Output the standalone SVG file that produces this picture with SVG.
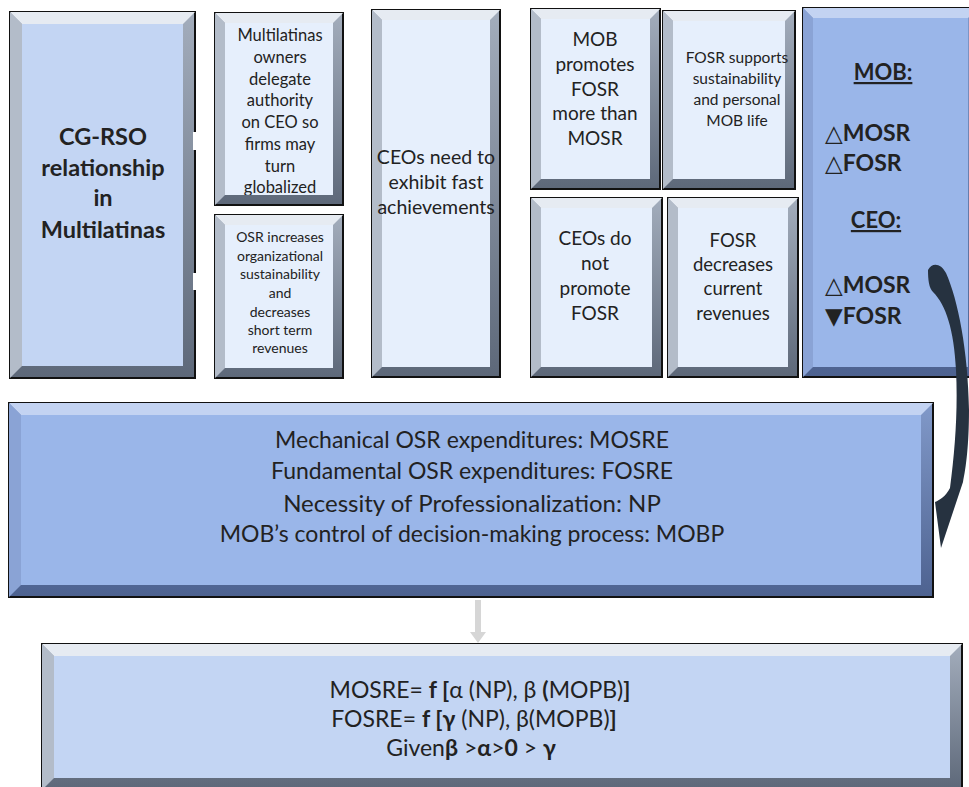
<svg xmlns="http://www.w3.org/2000/svg" width="969" height="787" viewBox="0 0 969 787">
<defs>
<linearGradient id="gFrame" x1="0" y1="0" x2="0" y2="1"><stop offset="0" stop-color="#a3adbc"/><stop offset="1" stop-color="#5d6879"/></linearGradient>
<linearGradient id="bFrame" x1="0" y1="0" x2="0" y2="1"><stop offset="0" stop-color="#8199c9"/><stop offset="1" stop-color="#4d6290"/></linearGradient>
<clipPath id="clip2"><rect x="215" y="13" width="128" height="182"/></clipPath>
</defs>
<style>
.fg{fill:url(#gFrame);stroke:#111;stroke-width:2}
.fb{fill:url(#bFrame);stroke:#111;stroke-width:2}
.tg{fill:#e6ebf2}
.lg{fill:#b3bcc9}
.tb{fill:#c3d3f2}
.lb{fill:#8aa3d5}
.pale{fill:#e6effc}
.mid{fill:#c3d5f3}
.blue{fill:#9ab6e9}
text{font-family:Lato,"Open Sans","DejaVu Sans",sans-serif;fill:#222;text-anchor:middle}
.b{font-weight:bold}
.s{text-anchor:start}
</style>
<rect width="969" height="787" fill="#fff"/>

<g id="node-cgrso">
<rect class="fg" x="10" y="12" width="185" height="366"/>
<polygon class="tg" points="10,12 195,12 183,24 22,24"/>
<polygon class="lg" points="10,12 22,24 22,366 10,378"/>
<rect class="mid" x="22" y="24" width="161" height="342"/>
<rect x="193" y="132" width="4" height="18" fill="#fff"/>
<rect x="193" y="273" width="4" height="17" fill="#fff"/>
<text class="b" font-size="23.5"><tspan x="103" y="145">CG-RSO</tspan><tspan x="103" y="176">relationship</tspan><tspan x="103" y="206">in</tspan><tspan x="103" y="238">Multilatinas</tspan></text>
</g>

<g id="node-owners">
<rect class="fg" x="215" y="13" width="128" height="192"/>
<polygon class="tg" points="215,13 343,13 333,23 225,23"/>
<polygon class="lg" points="215,13 225,23 225,195 215,205"/>
<rect class="pale" x="225" y="23" width="108" height="172"/>
<text font-size="16.5" clip-path="url(#clip2)"><tspan x="280" y="41">Multilatinas</tspan><tspan x="280" y="63">owners</tspan><tspan x="280" y="85">delegate</tspan><tspan x="280" y="106">authority</tspan><tspan x="280" y="128">on CEO so</tspan><tspan x="280" y="150">firms may</tspan><tspan x="280" y="172">turn</tspan><tspan x="280" y="193">globalized</tspan></text>
</g>

<g id="node-osr">
<rect class="fg" x="215" y="215" width="128" height="163"/>
<polygon class="tg" points="215,215 343,215 333,225 225,225"/>
<polygon class="lg" points="215,215 225,225 225,368 215,378"/>
<rect class="pale" x="225" y="225" width="108" height="143"/>
<text font-size="14"><tspan x="280" y="242">OSR increases</tspan><tspan x="280" y="261">organizational</tspan><tspan x="280" y="279">sustainability</tspan><tspan x="280" y="298">and</tspan><tspan x="280" y="317">decreases</tspan><tspan x="280" y="335">short term</tspan><tspan x="280" y="353">revenues</tspan></text>
</g>

<g id="node-ceos-need">
<rect class="fg" x="372" y="10" width="128" height="367"/>
<polygon class="tg" points="372,10 500,10 490,20 382,20"/>
<polygon class="lg" points="372,10 382,20 382,367 372,377"/>
<rect class="pale" x="382" y="20" width="108" height="347"/>
<text font-size="19.5"><tspan x="436" y="164">CEOs need to</tspan><tspan x="436" y="189">exhibit fast</tspan><tspan x="436" y="214">achievements</tspan></text>
</g>

<g id="node-mob-promotes">
<rect class="fg" x="531" y="9" width="129" height="180"/>
<polygon class="tg" points="531,9 660,9 650,19 541,19"/>
<polygon class="lg" points="531,9 541,19 541,179 531,189"/>
<rect class="pale" x="541" y="19" width="109" height="160"/>
<text font-size="19"><tspan x="595" y="46">MOB</tspan><tspan x="595" y="71">promotes</tspan><tspan x="595" y="96">FOSR</tspan><tspan x="595" y="120">more than</tspan><tspan x="595" y="145">MOSR</tspan></text>
</g>

<g id="node-fosr-supports">
<rect class="fg" x="663" y="11" width="132" height="178"/>
<polygon class="tg" points="663,11 795,11 785,21 673,21"/>
<polygon class="lg" points="663,11 673,21 673,179 663,189"/>
<rect class="pale" x="673" y="21" width="112" height="158"/>
<text font-size="15.5"><tspan x="737" y="63">FOSR supports</tspan><tspan x="737" y="84">sustainability</tspan><tspan x="737" y="105">and personal</tspan><tspan x="737" y="126">MOB life</tspan></text>
</g>

<g id="node-ceos-do-not">
<rect class="fg" x="531" y="198" width="131" height="179"/>
<polygon class="tg" points="531,198 662,198 652,208 541,208"/>
<polygon class="lg" points="531,198 541,208 541,367 531,377"/>
<rect class="pale" x="541" y="208" width="111" height="159"/>
<text font-size="19"><tspan x="595" y="245">CEOs do</tspan><tspan x="595" y="270">not</tspan><tspan x="595" y="295">promote</tspan><tspan x="595" y="320">FOSR</tspan></text>
</g>

<g id="node-fosr-decreases">
<rect class="fg" x="668" y="198" width="130" height="179"/>
<polygon class="tg" points="668,198 798,198 788,208 678,208"/>
<polygon class="lg" points="668,198 678,208 678,367 668,377"/>
<rect class="pale" x="678" y="208" width="110" height="159"/>
<text font-size="18.5"><tspan x="733" y="247">FOSR</tspan><tspan x="733" y="271">decreases</tspan><tspan x="733" y="295">current</tspan><tspan x="733" y="320">revenues</tspan></text>
</g>

<g id="node-mob-ceo">
<rect class="fb" x="803" y="8" width="175" height="369"/>
<polygon class="tb" points="803,8 978,8 968,18 813,18"/>
<polygon class="lb" points="803,8 813,18 813,367 803,377"/>
<rect class="blue" x="813" y="18" width="155" height="349"/>
<text class="b" font-size="22" text-decoration="underline" x="883" y="80">MOB:</text>
<text class="b s" font-size="23"><tspan x="825" y="141">△MOSR</tspan><tspan x="825" y="171">△FOSR</tspan></text>
<text class="b" font-size="22" text-decoration="underline" x="876" y="228">CEO:</text>
<text class="b s" font-size="23"><tspan x="825" y="293">△MOSR</tspan><tspan x="825" y="324">▼FOSR</tspan></text>
</g>

<g id="node-definitions">
<rect class="fb" x="9" y="403" width="924" height="194"/>
<polygon class="tb" points="9,403 933,403 921,415 21,415"/>
<polygon class="lb" points="9,403 21,415 21,585 9,597"/>
<rect class="blue" x="21" y="415" width="900" height="170"/>
<text font-size="23"><tspan x="472" y="448">Mechanical OSR expenditures: MOSRE</tspan><tspan x="472" y="479">Fundamental OSR expenditures: FOSRE</tspan></text>
<text font-size="24" x="472" y="512">Necessity of Professionalization: NP</text>
<text font-size="23" x="472" y="542">MOB’s control of decision-making process: MOBP</text>
</g>

<g id="node-functions">
<rect class="fg" x="42" y="644" width="920" height="146"/>
<polygon class="tg" points="42,644 962,644 950,656 54,656"/>
<polygon class="lg" points="42,644 54,656 54,778 42,790"/>
<rect class="mid" x="54" y="656" width="896" height="122"/>
<text font-size="23"><tspan x="480" y="698">MOSRE= <tspan class="b">f [</tspan>α (NP), β <tspan class="b">(</tspan>MOPB)<tspan class="b">]</tspan></tspan></text>
<text font-size="23"><tspan x="474" y="727">FOSRE= <tspan class="b">f [γ</tspan> (NP), β(MOPB)<tspan class="b">]</tspan></tspan></text>
<text font-size="23"><tspan x="471" y="756">Given<tspan class="b">β</tspan> &gt;<tspan class="b">α</tspan>&gt;<tspan class="b">0</tspan> &gt; <tspan class="b">γ</tspan></tspan></text>
</g>

<g id="connectors">
<path d="M 475 600 L 481 600 L 481 632 L 486 632 L 478 643 L 470 632 L 475 632 Z" fill="#d6d6d6"/>
<path d="M 928 270 C 932 262 941 263 946 273 C 958 300 968 350 969 410 C 969 445 966 468 963 482 L 941 548 L 935 502 C 940 500 946 496 950 488 C 955 450 958 410 956 370 C 954 330 946 305 933 292 C 929 288 928 280 928 270 Z" fill="#263240"/>
</g>
</svg>
